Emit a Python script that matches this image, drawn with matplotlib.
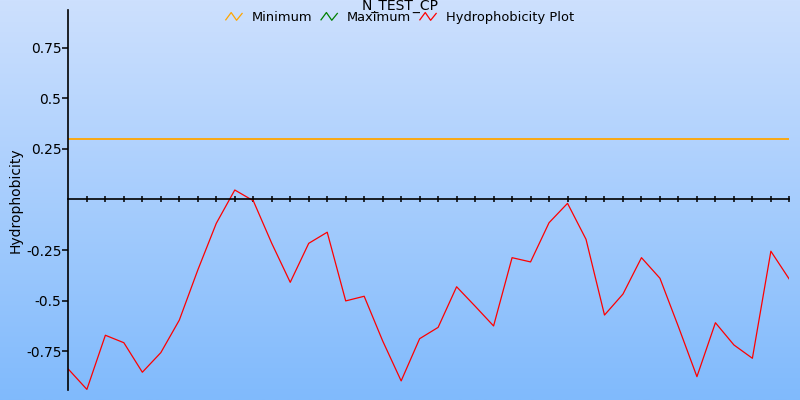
import numpy as np
import matplotlib.pyplot as plt
from matplotlib.legend_handler import HandlerLine2D
from matplotlib.lines import Line2D

# data
title = "N_TEST_CP"
y_label = "Hydrophobicity"
hydro = [-0.84, -0.94, -0.672, -0.709, -0.855, -0.758, -0.597, -0.349, -0.118, 0.047,
         -0.006, -0.217, -0.41, -0.217, -0.162, -0.502, -0.479, -0.70, -0.898, -0.689,
         -0.633, -0.432, -0.528, -0.626, -0.288, -0.309, -0.115, -0.019, -0.197, -0.572,
         -0.468, -0.288, -0.39, -0.63, -0.877, -0.61, -0.72, -0.786, -0.256, -0.395]
minimum = 0.3
maximum = []  # not visible in the plot area
y_ticks = [-0.75, -0.5, -0.25, 0.25, 0.5, 0.75]
y_ticklabels = ["-0.75", "-0.5", "-0.25", "0.25", "0.5", "0.75"]


# legend icon drawn as a small zigzag
class ZigzagHandler(HandlerLine2D):
    def create_artists(self, legend, orig_handle, xdescent, ydescent,
                       width, height, fontsize, trans):
        xs = np.array([0, 0.33, 0.66, 1.0]) * width - xdescent
        ys = np.array([0.15, 0.95, 0.1, 0.85]) * height - ydescent
        line = Line2D(xs, ys, color=orig_handle.get_color(), lw=0.9)
        line.set_transform(trans)
        return [line]


fig = plt.figure(figsize=(8, 4), dpi=100)

# gradient background over the whole figure
bg = fig.add_axes([0, 0, 1, 1], zorder=-10)
grad = np.linspace(0, 1, 256).reshape(-1, 1)
top = np.array([205, 224, 254]) / 255
bottom = np.array([128, 186, 252]) / 255
img = top + (bottom - top) * grad[..., None]
bg.imshow(img.reshape(256, 1, 3), aspect="auto", extent=[0, 1, 0, 1])
bg.axis("off")

ax = fig.add_axes([0.0855, 0.025, 0.9012, 0.95])
ax.patch.set_alpha(0)

x = np.arange(len(hydro))
ax.plot(x, np.full(len(x), minimum), color="#ffa500", lw=1.3, label="Minimum")
ax.plot(x[:len(maximum)], maximum, color="#008000", lw=1.0, label="Maximum")
ax.plot(x, hydro, color="red", lw=0.9, label="Hydrophobicity Plot")

ax.set_xlim(0, len(hydro) - 1)
ax.set_ylim(-0.943, 0.938)

ax.spines["top"].set_visible(False)
ax.spines["right"].set_visible(False)
ax.spines["bottom"].set_position(("data", 0))
ax.spines["left"].set_linewidth(1.2)
ax.spines["bottom"].set_linewidth(1.2)

ax.set_xticks(x[1:])
ax.tick_params(axis="x", direction="inout", length=5, width=1.1, labelbottom=False)
ax.set_yticks(y_ticks)
ax.set_yticklabels(y_ticklabels)
ax.tick_params(axis="y", direction="out", length=4, width=1.1, labelsize=10, pad=1)

fig.text(0.019, 0.5, y_label, rotation=90, va="center", ha="center", fontsize=10)
fig.text(0.5, 1.003, title, ha="center", va="top", fontsize=10)

fig.legend(loc="upper center", bbox_to_anchor=(0.5, 0.972), ncol=3, frameon=False,
           fontsize=9.4, handlelength=1.25, handletextpad=0.75, columnspacing=0.65,
           handler_map={Line2D: ZigzagHandler()}, borderpad=0, borderaxespad=0)

fig.savefig("out.png", dpi=100)
